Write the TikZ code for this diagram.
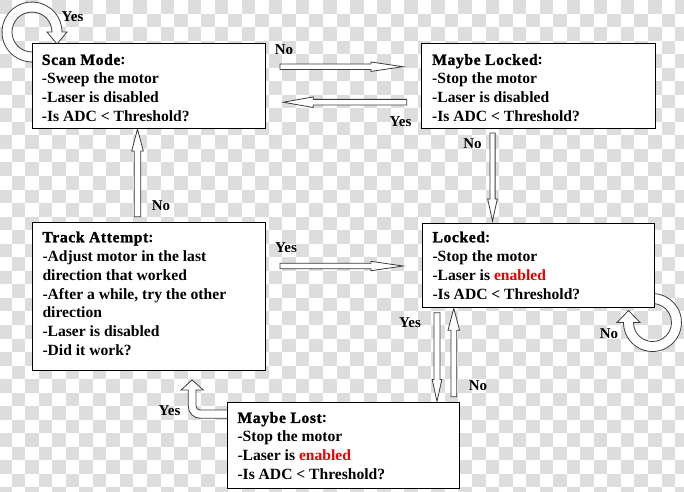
\documentclass[tikz,border=0pt]{standalone}
\usepackage{fontspec}
\setmainfont{Liberation Serif}
\newfontfamily\titlef{Liberation Serif}[BoldFeatures={FakeBold=1.5,LetterSpace=4}]
\usetikzlibrary{calc}
\definecolor{chk}{RGB}{221,221,221}
\definecolor{enred}{RGB}{235,0,0}
\definecolor{arrline}{RGB}{60,60,60}
\tikzset{
  box/.style={draw=black, fill=white, line width=1pt, rectangle, inner sep=0pt, anchor=north west},
  txt/.style={anchor=north west, inner sep=0pt, align=left, font=\fontsize{15.6}{18.9}\selectfont\bfseries},
  lbl/.style={inner sep=0pt, font=\fontsize{15}{18}\selectfont\bfseries},
  blockarrow/.style={fill=white, draw=arrline, line width=0.8pt, line join=miter},
}
% #1 tail, #2 tip, #3 head length, #4 shaft half width, #5 head half width
\newcommand\barrow[5]{%
  \filldraw[blockarrow] let \p1=(#1), \p2=(#2),
    \n1={veclen(\x2-\x1,\y2-\y1)}, \n2={(\x2-\x1)/\n1}, \n3={(\y2-\y1)/\n1} in
    ({\x1-(\n3)*#4pt},{\y1+(\n2)*#4pt})
 -- ({\x2-(\n2)*#3pt-(\n3)*#4pt},{\y2-(\n3)*#3pt+(\n2)*#4pt})
 -- ({\x2-(\n2)*#3pt-(\n3)*#5pt},{\y2-(\n3)*#3pt+(\n2)*#5pt})
 -- (\p2)
 -- ({\x2-(\n2)*#3pt+(\n3)*#5pt},{\y2-(\n3)*#3pt-(\n2)*#5pt})
 -- ({\x2-(\n2)*#3pt+(\n3)*#4pt},{\y2-(\n3)*#3pt-(\n2)*#4pt})
 -- ({\x1+(\n3)*#4pt},{\y1-(\n2)*#4pt}) -- cycle;}
\begin{document}
\begin{tikzpicture}[x=1pt,y=-1pt]
\useasboundingbox (0,0) rectangle (684,491);
% checkerboard background
\begin{scope}
\clip (0,0) rectangle (684,491);
\fill[white] (0,0) rectangle (684,491);
\foreach \j in {0,...,36}{
  \pgfmathtruncatemacro\st{mod(\j,2)}
  \pgfmathtruncatemacro\stt{\st+2}
  \foreach \i in {\st,\stt,...,52}{
    \fill[chk] ({-1.94+13.54*\i},{13.54*\j}) rectangle ++(13.54,13.54);
  }
}
\end{scope}

% arrow end points
\coordinate (a1s) at (280,66.7);   \coordinate (a1e) at (403,66.7);
\coordinate (a2s) at (406.7,102.2); \coordinate (a2e) at (283.3,102.2);
\coordinate (a3s) at (492.5,133);  \coordinate (a3e) at (492.5,221);
\coordinate (a4s) at (137.5,216.7); \coordinate (a4e) at (137.5,129);
\coordinate (a5s) at (280,266);    \coordinate (a5e) at (403,266);
\coordinate (a6s) at (437,312.7);  \coordinate (a6e) at (437,401.5);
\coordinate (a7s) at (453.8,396.7); \coordinate (a7e) at (453.8,308.3);

% self loop on Scan Mode
\filldraw[blockarrow] (32,32) ++(60:30) arc[start angle=60, end angle=360, radius=30]
  -- (67,32) -- (57,44) -- (47,32) -- (52,32)
  arc[start angle=360, end angle=60, radius=20] -- cycle;
% self loop on Locked
\filldraw[blockarrow] (652.5,322.5) ++(250:29) arc[start angle=250, end angle=540, radius=29]
  -- (617,322.5) -- (628.5,310.5) -- (640,322.5) -- (633.5,322.5)
  arc[start angle=540, end angle=250, radius=19] -- cycle;
% bent arrow Maybe Lost -> Track Attempt
\filldraw[blockarrow] (192,380) -- (203.3,390) -- (196,390) -- (196,406)
  arc[start angle=180, end angle=90, radius=4] -- (232,410) -- (232,418.3) -- (200.3,418.3)
  arc[start angle=90, end angle=180, radius=12] -- (188.3,390) -- (181,390) -- cycle;

% straight block arrows
\barrow{a1s}{a1e}{32}{2.7}{4.7}
\barrow{a2s}{a2e}{30}{2.85}{5.3}
\barrow{a3s}{a3e}{22}{2.6}{4.8}
\barrow{a4s}{a4e}{22}{3.2}{5.8}
\barrow{a5s}{a5e}{32}{2.7}{4.7}
\barrow{a6s}{a6e}{22}{3}{4.8}
\barrow{a7s}{a7e}{22}{2.85}{5.8}

% boxes
\node[box, minimum width=233pt, minimum height=85pt] (scan) at (32,43) {};
\node[box, minimum width=234pt, minimum height=85pt] (mlock) at (421,43) {};
\node[box, minimum width=232pt, minimum height=84pt] (locked) at (422,223) {};
\node[box, minimum width=233pt, minimum height=148pt] (track) at (32,222) {};
\node[box, minimum width=232pt, minimum height=86pt] (lost) at (227,402) {};

% texts
\node[txt] (scant) at (41.7,53.9) {{\titlef\bfseries Scan Mode}:\\-Sweep the motor\\-Laser is disabled\\-Is ADC < Threshold?};
\node[txt] (mlockt) at (432,53.9) {{\titlef\bfseries Maybe Locked}:\\-Stop the motor\\-Laser is disabled\\-Is ADC < Threshold?};
\node[txt] (lockedt) at (432.3,231.3) {{\titlef\bfseries Locked}:\\-Stop the motor\\-Laser is {\color{enred}enabled}\\-Is ADC < Threshold?};
\node[txt] (trackt) at (42.3,231.3) {{\titlef\bfseries Track Attempt}:\\-Adjust motor in the last\\direction that worked\\-After a while, try the other\\direction\\-Laser is disabled\\-Did it work?};
\node[txt] (lostt) at (237.3,411.9) {{\titlef\bfseries Maybe Lost}:\\-Stop the motor\\-Laser is {\color{enred}enabled}\\-Is ADC < Threshold?};

% labels
\node[lbl] (l1) at (72.5,17) {Yes};
\node[lbl] (l2) at (284,49.5) {No};
\node[lbl] (l3) at (400.5,122) {Yes};
\node[lbl] (l4) at (472.5,144) {No};
\node[lbl] (l5) at (161,206) {No};
\node[lbl] (l6) at (286,248) {Yes};
\node[lbl] (l7) at (410,322.5) {Yes};
\node[lbl] (l8) at (478,386) {No};
\node[lbl] (l9) at (609,334) {No};
\node[lbl] (l10) at (169.5,411) {Yes};
\end{tikzpicture}
\end{document}
